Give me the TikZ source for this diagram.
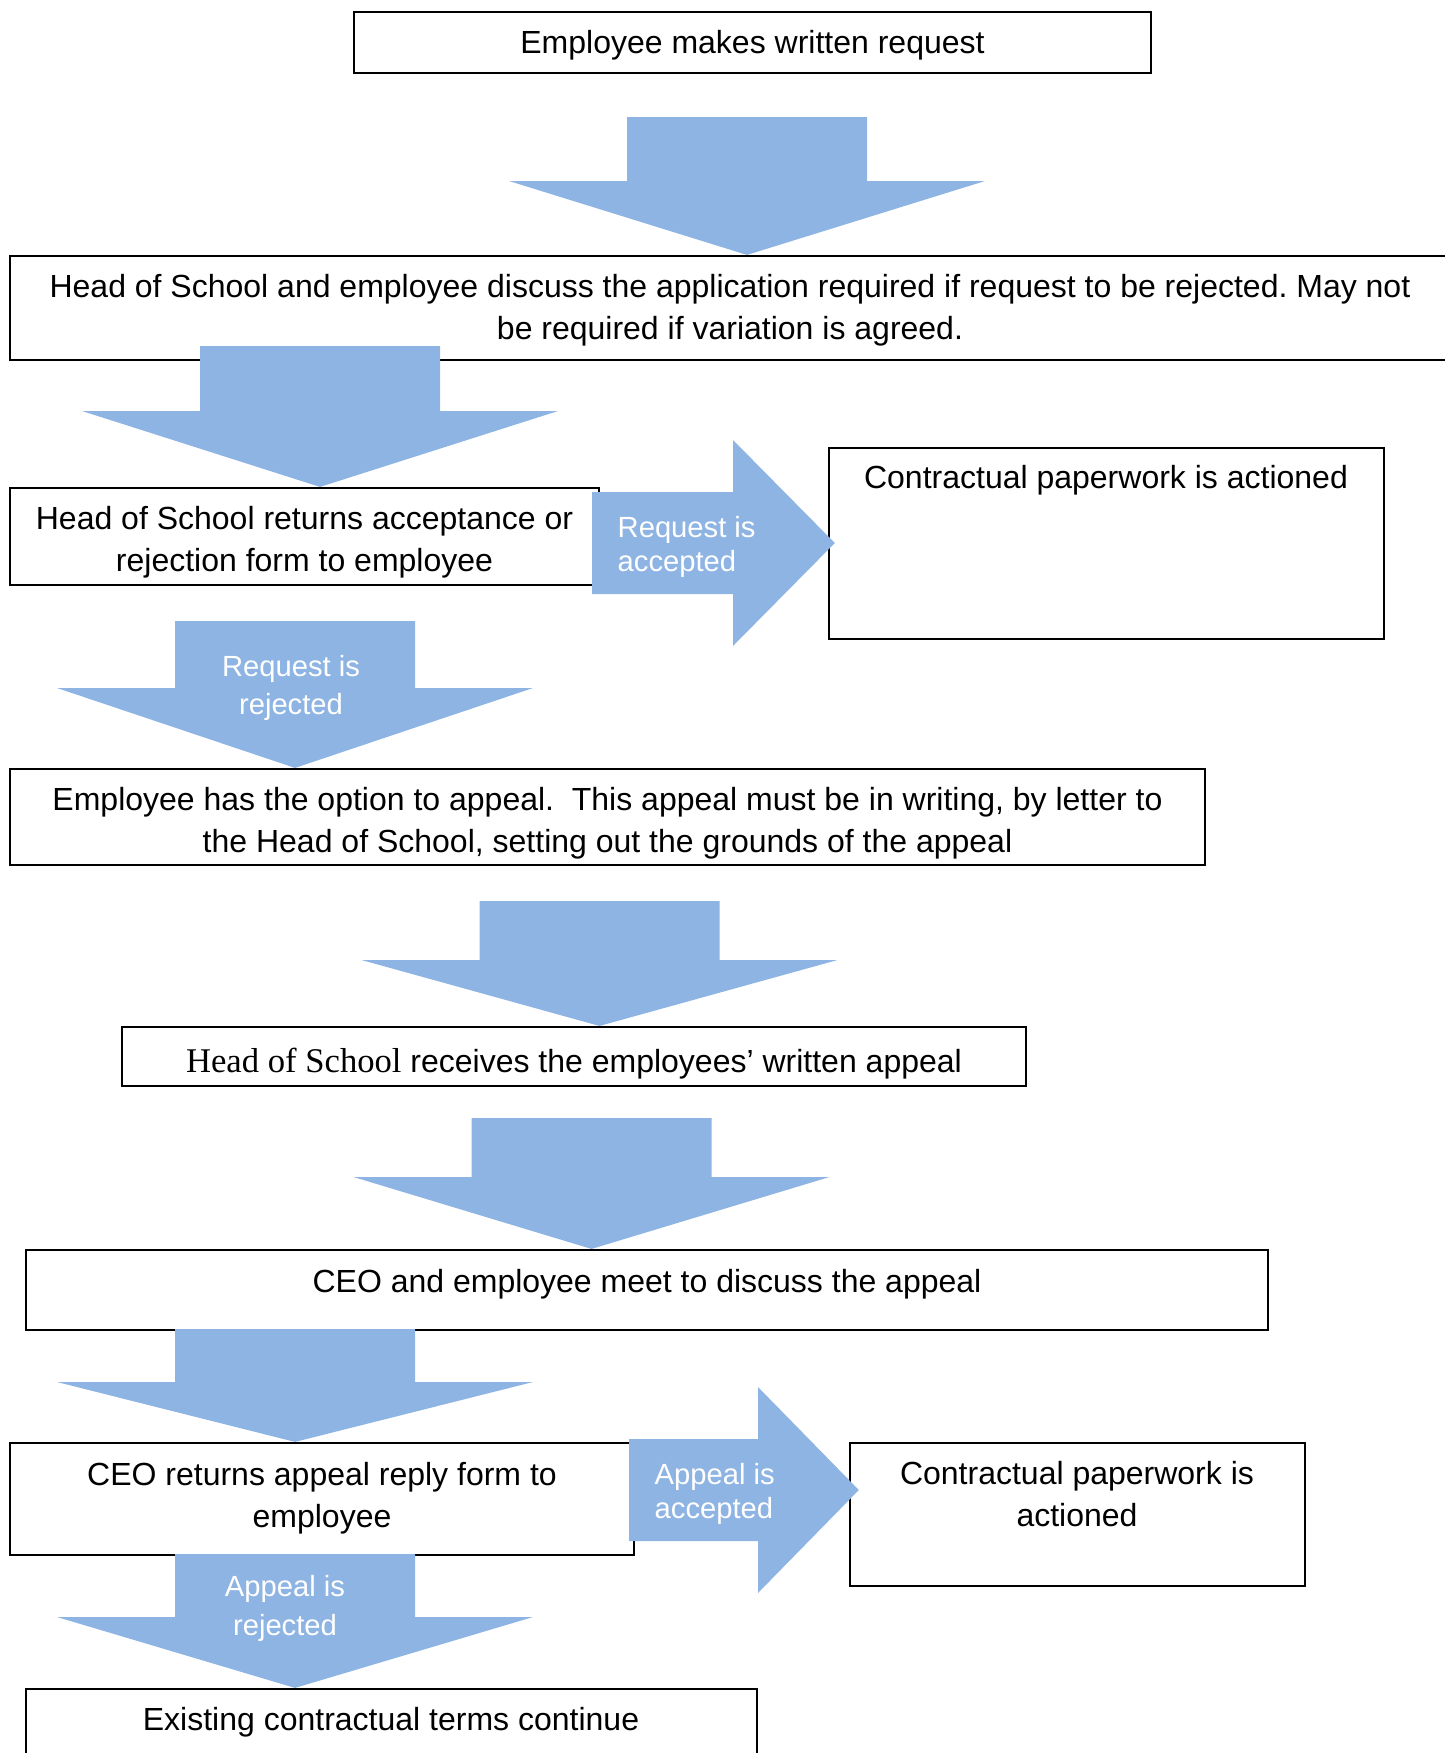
\documentclass[tikz,border=0pt]{standalone}
\usepackage{fontspec}
\setmainfont{Liberation Sans}
\newfontfamily\headserif{Liberation Serif}
\frenchspacing
\usetikzlibrary{calc}
\definecolor{flowblue}{RGB}{142,180,227}
\tikzset{box/.style={draw=black, line width=0.6pt, inner sep=0pt},
  boxtext/.style={inner sep=0pt, align=center, font=\fontsize{9.1}{11.9}\selectfont},
  acctext/.style={white, inner sep=0pt, align=left, anchor=west, font=\fontsize{8.3}{9.8}\selectfont},
  rejtext/.style={white, inner sep=0pt, align=center, font=\fontsize{8.3}{11}\selectfont},
  flow/.style={fill=flowblue}}
% big down arrow: target, centre x, top, neck
\newcommand{\flowdown}[4]{%
  \fill[flow] (#2-120,#3) -- (#2+120,#3) -- (#2+120,#4) -- (#2+238,#4)
    -- (#2,0 |- #1.north) -- (#2-238,#4) -- (#2-120,#4) -- cycle;}
% big right arrow: target, shaft x, neck x, centre y, overlap
\newcommand{\flowright}[5]{%
  \fill[flow] (#2,#4-51) -- (#3,#4-51) -- (#3,#4-103) -- ($(#1.west |- 0,#4)+(#5,0)$)
    -- (#3,#4+103) -- (#3,#4+51) -- (#2,#4+51) -- cycle;}

\begin{document}
\begin{tikzpicture}[x=0.01cm,y=-0.01cm]
  \useasboundingbox (0,0) rectangle (1445,1753);
  % boxes
  \node[box, minimum width=7.97cm, minimum height=0.61cm] (b1) at (752.5,42.5) {};
  \node[box, minimum width=14.4cm, minimum height=1.04cm] (b2) at (730,308) {};
  \node[box, minimum width=5.89cm, minimum height=0.97cm] (b3) at (304.5,536.5) {};
  \node[box, minimum width=5.55cm, minimum height=1.91cm] (b4) at (1106.5,543.5) {};
  \node[box, minimum width=11.95cm, minimum height=0.96cm] (b5) at (607.5,817) {};
  \node[box, minimum width=9.04cm, minimum height=0.59cm] (b6) at (574,1056.5) {};
  \node[box, minimum width=12.42cm, minimum height=0.8cm] (b7) at (647,1290) {};
  \node[box, minimum width=6.24cm, minimum height=1.12cm] (b8) at (322,1499) {};
  \node[box, minimum width=4.55cm, minimum height=1.43cm] (b9) at (1077.5,1514.5) {};
  \node[box, minimum width=7.31cm, minimum height=1cm] (b10) at (391.5,1739) {};
  % box texts
  \node[boxtext] (b1t) at (752.5,45.3) {Employee makes written request};
  \node[boxtext] (b2t) at (730,310) {Head of School and employee discuss the application required if request to be rejected. May not\\ be required if variation is agreed.};
  \node[boxtext] (b3t) at (304.5,542.5) {Head of School returns acceptance or\\ rejection form to employee};
  \node[boxtext] (b4t) at (1106,480.5) {Contractual paperwork is actioned};
  \node[boxtext] (b5t) at (607.5,823) {Employee has the option to appeal.\ \ This appeal must be in writing, by letter to\\ the Head of School, setting out the grounds of the appeal};
  \node[boxtext] (b6t) at (574,1064) {{\headserif\fontsize{9.85}{11.9}\selectfont Head of School} receives the employees’ written appeal};
  \node[boxtext] (b7t) at (647,1284.5) {CEO and employee meet to discuss the appeal};
  \node[boxtext] (b8t) at (322,1498) {CEO returns appeal reply form to\\ employee};
  \node[boxtext] (b9t) at (1077,1494) {Contractual paperwork is\\ actioned};
  \node[boxtext] (b10t) at (391,1722.5) {Existing contractual terms continue};
  % arrows
  \flowdown{b2}{747}{117}{181}
  \flowdown{b3}{320}{346}{411}
  \flowright{b4}{592}{733}{543}{7}
  \flowdown{b5}{295}{621}{688}
  \flowdown{b6}{599.5}{901}{960}
  \flowdown{b7}{591.5}{1118}{1177}
  \flowdown{b8}{295}{1329}{1382}
  \flowright{b9}{629}{758}{1490}{10}
  \flowdown{b10}{295}{1554}{1617}
  % arrow labels
  \node[acctext] (acc1) at (617,547) {Request is\\accepted};
  \node[rejtext] (rej1) at (291,688) {Request is\\rejected};
  \node[acctext] (acc2) at (654,1494) {Appeal is\\accepted};
  \node[rejtext] (rej2) at (285,1608.5) {Appeal is\\rejected};
\end{tikzpicture}
\end{document}
